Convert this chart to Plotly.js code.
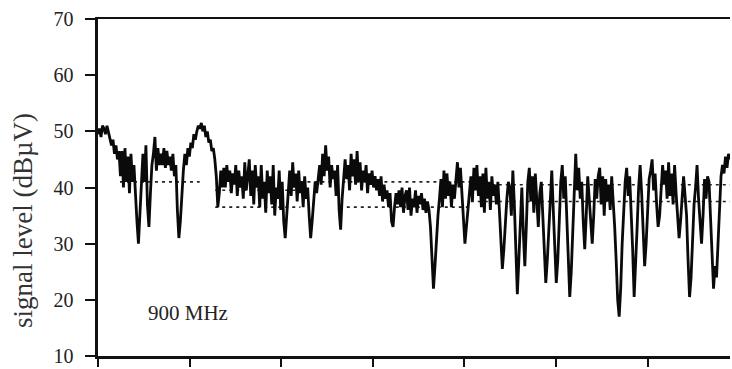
<!DOCTYPE html>
<html>
<head>
<meta charset="utf-8">
<script src="https://cdn.plot.ly/plotly-3.0.1.min.js"></script>
<style>html,body{margin:0;padding:0;background:#fff;}#chart{width:732px;height:369px;}</style>
</head>
<body>
<div id="chart"></div>
<script>
// Measured signal level (dBµV), evenly sampled along the route
const signalLevel = [
  49.5, 50.5, 49, 51, 50.5, 49.5, 51, 50,
  49, 47.5, 48.5, 46, 47.5, 45, 46.5,
  42, 46.5, 40, 47, 41, 45.5, 39, 46, 41, 44, 38,
  34, 30, 35, 40,
  46, 41, 47.5, 37, 33,
  39, 44, 46, 49, 43, 47, 44,
  46, 44, 47, 43.5, 46.5, 44, 45.5, 43, 46, 42, 44,
  36, 31, 34, 40,
  43, 46, 44, 47, 45.5, 48, 47, 49.5, 48.5, 50, 51, 50.5, 51.5,
  50, 51, 49, 50, 48, 48.5, 46.5, 47, 45,
  42, 36.5, 39, 43, 40,
  43.5, 40, 44, 41, 43, 39, 42.5, 40.5, 44, 38.5, 43, 40, 42, 38, 44.5, 39.5, 42,
  45, 38.5, 43, 37, 44, 40, 42, 36.5, 44, 38, 41, 35.5, 43, 39, 42, 37, 44, 35, 40, 38, 43, 36, 41, 34, 31, 35, 39,
  43, 38.5, 44.5, 40, 42.5, 37.5, 43, 39, 41, 36.5, 42, 38, 40,
  35, 31, 34, 38, 41, 39, 42,
  44, 40.5, 46, 42, 47.5, 43, 45.5, 40, 44, 41.5, 43, 38.5, 44, 36, 32.5, 38, 41,
  45, 41.5, 44, 39.5, 46, 42, 45, 40.5, 46.5, 41, 44.5, 39.5, 43, 41, 44, 39, 42.5, 40.5,
  43, 40, 42, 39.5, 41.5, 38.5, 42, 37.5, 40.5, 38, 39.5, 36.5, 39,
  34, 33, 36.5, 39, 37,
  39.5, 36.5, 40, 35.5, 38.5, 39.5, 36, 40, 35, 38, 36.5, 39.5, 35.5, 38.5, 37, 39, 36, 38, 35.5, 37.5, 36,
  33, 27, 22, 26, 31, 35, 38,
  41.5, 36.5, 43, 38, 42.5, 38.5, 41, 36.5, 40.5, 38, 41,
  44.5, 40, 43.5, 39,
  35, 30, 33, 36.5, 39.5,
  42, 37.5, 43.5, 39.5, 44, 38.5, 42, 36.5, 42.5, 35.5, 43.5, 38, 41, 36, 42, 38.5, 40.5, 37, 41,
  36, 30, 25.5, 29, 34, 38, 41,
  40, 35, 43, 37, 29, 21, 27, 34,
  40, 32, 26, 33, 41,
  43.5, 37.5, 42, 35.5, 42.5, 38, 33, 39, 41, 35,
  29, 23, 27, 33, 40,
  43, 36, 28, 23, 27, 35, 41,
  44, 38, 42, 35, 27, 20.5, 25, 33, 40,
  46, 39.5, 43.5, 38, 41, 34, 29, 35, 42,
  38, 33, 30, 35, 41.5, 38, 42,
  43.5, 37, 42, 35, 41.5, 37.5, 40.5, 36, 42, 38, 33,
  27, 20, 17, 22, 30, 37, 41,
  43.5, 38.5, 42, 36, 29, 20.5, 26, 33, 40,
  44, 39, 33, 26, 30, 37, 41.5, 43,
  45, 39.5, 42.5, 37, 33, 35, 39, 44, 40.5, 43, 38,
  44.5, 38.5, 42.5, 37, 44, 39, 35, 31, 34, 39, 42, 38.5,
  35, 27, 20.5, 24, 32, 37, 40,
  44, 38, 33, 30, 35, 41.5, 38, 42,
  41, 35, 29, 22, 26, 24, 30, 37, 42,
  44, 42.5, 45.5, 43.5, 46, 45
];
const routeLength = 6.9;               // x-axis extent (tick units)
// Reference (predicted) levels, dotted
const upperRefX = [0.24, 1.11, null, 1.28, 2.21, null, 2.21, 4.07, null, 4.07, 6.9];
const upperRefY = [41, 41, null, 39.5, 39.5, null, 41, 41, null, 40.5, 40.5];
const lowerRefX = [1.28, 2.21, null, 2.64, 4.07, null, 4.07, 6.9];
const lowerRefY = [36.5, 36.5, null, 36.5, 36.5, null, 37.5, 37.5];
const yTicks = [10, 20, 30, 40, 50, 60, 70];
const xTicks = [0, 1, 2, 3, 4, 5, 6];
const label = "900 MHz";
const yTitle = "signal level (dBµV)";

const n = signalLevel.length;
const dist = signalLevel.map((_, i) => i * routeLength / (n - 1));

const serif = "Liberation Serif, Times New Roman, serif";
const traces = [
  {x: upperRefX, y: upperRefY, mode: "lines", connectgaps: false,
   line: {color: "#222", width: 1.6, dash: "3px,4px"}, hoverinfo: "skip"},
  {x: lowerRefX, y: lowerRefY, mode: "lines", connectgaps: false,
   line: {color: "#222", width: 1.6, dash: "3px,4px"}, hoverinfo: "skip"},
  {x: dist, y: signalLevel, mode: "lines",
   line: {color: "#0a0a0a", width: 2.8}}
];
const layout = {
  width: 732, height: 369,
  margin: {l: 98, r: 2, t: 19, b: 13},
  paper_bgcolor: "#fff", plot_bgcolor: "#fff",
  showlegend: false,
  font: {family: serif, color: "#222", size: 20},
  xaxis: {range: [0, routeLength], tickvals: xTicks, showticklabels: false,
          ticks: "outside", ticklen: 8, tickwidth: 2, tickcolor: "#111",
          showline: true, linewidth: 2.5, linecolor: "#111", mirror: true,
          showgrid: false, zeroline: false},
  yaxis: {range: [10, 70], tickvals: yTicks, ticks: "outside", ticklen: 10,
          tickwidth: 2, tickcolor: "#111", ticklabelstandoff: 7,
          showline: true, linewidth: 3.5, linecolor: "#111",
          showgrid: false, zeroline: false,
          tickfont: {family: serif, size: 20, color: "#222"}},
  annotations: [
    {x: 0.98, y: 17.7, xref: "x", yref: "y", text: label,
     showarrow: false, font: {family: serif, size: 21, color: "#222"}},
    {x: -0.1187, y: 0.4036, xref: "paper", yref: "paper", text: yTitle,
     textangle: -90, showarrow: false, xanchor: "center", yanchor: "middle",
     font: {family: serif, size: 27, color: "#333"}}
  ]
};
Plotly.newPlot("chart", traces, layout, {staticPlot: true, displayModeBar: false});
</script>
</body>
</html>
